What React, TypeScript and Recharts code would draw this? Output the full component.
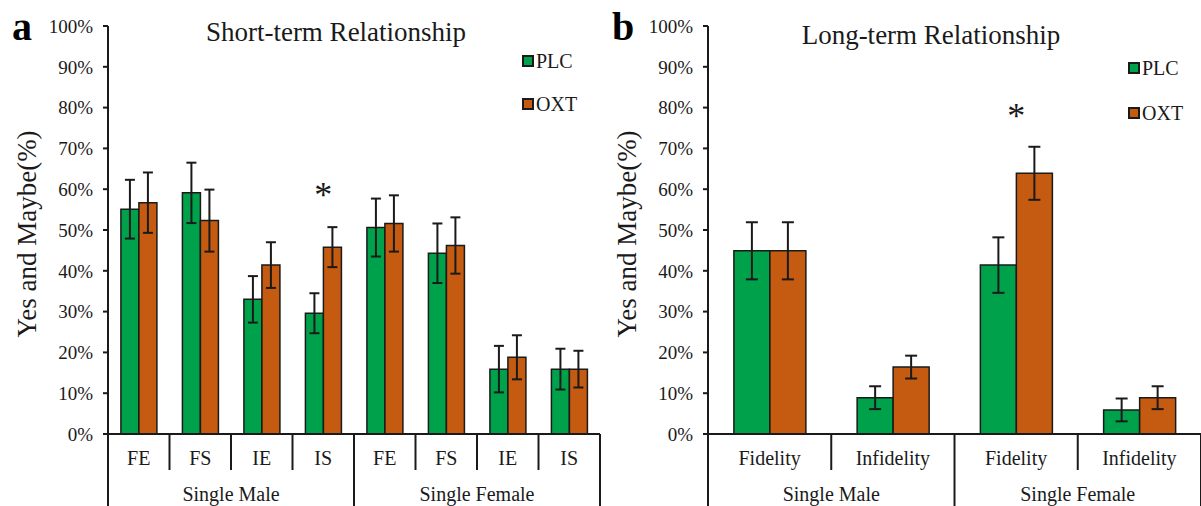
import { BarChart, Bar, XAxis, YAxis, ErrorBar, ReferenceDot, Legend } from 'recharts';

const FONT = '"Liberation Serif", "Times New Roman", serif';
const GREEN = '#00A14B';
const ORANGE = '#C55A11';
const INK = '#1a1a1a';

const seriesOrder = ['PLC', 'OXT'];

// panel a: short-term
const shortCats = ['FE', 'FS', 'IE', 'IS', 'FE', 'FS', 'IE', 'IS'];
const shortGroups = [
  'Single Male', 'Single Male', 'Single Male', 'Single Male',
  'Single Female', 'Single Female', 'Single Female', 'Single Female',
];
const shortPlc = [55.1, 59.1, 33.0, 29.6, 50.6, 44.3, 15.9, 15.9];
const shortPlcErr = [7.2, 7.4, 5.7, 4.9, 7.1, 7.3, 5.7, 5.0];
const shortOxt = [56.7, 52.3, 41.4, 45.8, 51.6, 46.2, 18.8, 15.9];
const shortOxtErr = [7.4, 7.6, 5.6, 4.9, 6.9, 6.9, 5.4, 4.5];
const shortStars = [null, null, null, 60, null, null, null, null];

// panel b: long-term
const longCats = ['Fidelity', 'Infidelity', 'Fidelity', 'Infidelity'];
const longGroups = ['Single Male', 'Single Male', 'Single Female', 'Single Female'];
const longPlc = [44.9, 8.9, 41.4, 5.9];
const longPlcErr = [7.0, 2.8, 6.8, 2.8];
const longOxt = [44.9, 16.4, 63.9, 8.9];
const longOxtErr = [7.0, 2.8, 6.5, 2.8];
const longStars = [null, null, 79.4, null];

const yTicks = [0, 10, 20, 30, 40, 50, 60, 70, 80, 90, 100];

interface PanelProps {
  letter: string;
  title: string;
  titleX: number;
  titleY: number;
  width: number;
  rightMargin: number;
  cats: string[];
  groups: string[];
  plc: number[];
  plcErr: number[];
  oxt: number[];
  oxtErr: number[];
  stars: (number | null)[];
  capWidth: number;
  legendLeft: number;
  legendTop: number;
  legendRow: number;
}

function Panel(p: PanelProps) {
  const data = p.cats.map((c, i) => ({
    id: `${p.groups[i]}|${c}|${i}`,
    cat: c,
    group: p.groups[i],
    plc: p.plc[i],
    plcErr: p.plcErr[i],
    oxt: p.oxt[i],
    oxtErr: p.oxtErr[i],
    star: p.stars[i],
  }));
  const height = 506;
  const margin = { top: 26, right: p.rightMargin, bottom: 0, left: 48 };
  const yWidth = 60;
  const xHeight = 72;
  const band = (p.width - margin.left - margin.right - yWidth) / data.length;

  const CatTick = (props: any) => {
    const { x, y, index } = props;
    const d = data[index];
    if (!d) return null;
    const start = index === 0 || data[index - 1].group !== d.group;
    const last = index === data.length - 1;
    const n = data.filter((e) => e.group === d.group).length;
    return (
      <g>
        <line x1={x - band / 2} x2={x - band / 2} y1={y} y2={y + (start ? xHeight : 36)} stroke={INK} strokeWidth={2} />
        {last && <line x1={x + band / 2} x2={x + band / 2} y1={y} y2={y + xHeight} stroke={INK} strokeWidth={2} />}
        <text x={x} y={y + 31} textAnchor="middle" fontSize={20} fontFamily={FONT} fill={INK}>
          {d.cat}
        </text>
        {start && (
          <text x={x - band / 2 + (n * band) / 2} y={y + 67} textAnchor="middle" fontSize={20} fontFamily={FONT} fill={INK}>
            {d.group}
          </text>
        )}
      </g>
    );
  };

  const renderLegend = (lp: any) => {
    const items = [...(lp.payload || [])].sort(
      (a: any, b: any) => seriesOrder.indexOf(a.value) - seriesOrder.indexOf(b.value)
    );
    return (
      <div style={{ fontFamily: FONT, fontSize: 20, color: INK }}>
        {items.map((e: any) => (
          <div key={e.value} style={{ display: 'flex', alignItems: 'center', height: p.legendRow, lineHeight: 1 }}>
            <span
              style={{
                display: 'inline-block',
                width: 8,
                height: 8,
                background: e.color,
                border: `2px solid ${INK}`,
                marginRight: 2,
              }}
            />
            {e.value}
          </div>
        ))}
      </div>
    );
  };

  return (
    <div style={{ position: 'relative', width: p.width, height }}>
      <BarChart
        width={p.width}
        height={height}
        data={data}
        margin={margin}
        barCategoryGap="21%"
        barGap={0}
      >
        <XAxis
          dataKey="id"
          interval={0}
          height={xHeight}
          tickLine={false}
          tickSize={0}
          tickMargin={0}
          axisLine={{ stroke: INK, strokeWidth: 2 }}
          tick={<CatTick />}
        />
        <YAxis
          width={yWidth}
          domain={[0, 100]}
          ticks={yTicks}
          interval={0}
          tickSize={5}
          tickMargin={10}
          tickFormatter={(v) => `${v}%`}
          axisLine={{ stroke: INK, strokeWidth: 2 }}
          tickLine={{ stroke: INK, strokeWidth: 2 }}
          tick={{ fontSize: 19, fontFamily: FONT, fill: INK }}
        />
        <Legend
          layout="vertical"
          align="center"
          verticalAlign="middle"
          wrapperStyle={{ left: p.legendLeft, top: p.legendTop, width: 80 }}
          content={renderLegend}
        />
        <Bar dataKey="plc" name="PLC" fill={GREEN} stroke={INK} strokeWidth={1.5} isAnimationActive={false}>
          <ErrorBar dataKey="plcErr" width={p.capWidth} stroke={INK} strokeWidth={2} direction="y" />
        </Bar>
        <Bar dataKey="oxt" name="OXT" fill={ORANGE} stroke={INK} strokeWidth={1.5} isAnimationActive={false}>
          <ErrorBar dataKey="oxtErr" width={p.capWidth} stroke={INK} strokeWidth={2} direction="y" />
        </Bar>
        {data
          .filter((d) => d.star != null)
          .map((d) => (
            <ReferenceDot
              key={d.id}
              x={d.id}
              y={d.star as number}
              r={0}
              shape={(sp: any) => (
                <text x={sp.cx} y={sp.cy + 18} textAnchor="middle" fontSize={36} fontFamily={FONT} fill={INK}>
                  *
                </text>
              )}
            />
          ))}
      </BarChart>
      <svg
        width={p.width}
        height={height}
        style={{ position: 'absolute', left: 0, top: 0, pointerEvents: 'none' }}
      >
        <text x={12} y={40} fontSize={40} fontWeight="bold" fontFamily={FONT} fill="#000">
          {p.letter}
        </text>
        <text x={p.titleX} y={p.titleY} textAnchor="middle" fontSize={27} fontFamily={FONT} fill={INK}>
          {p.title}
        </text>
        <text
          transform="translate(36,234) rotate(-90)"
          textAnchor="middle"
          fontSize={27}
          fontFamily={FONT}
          fill={INK}
        >
          Yes and Maybe(%)
        </text>
      </svg>
    </div>
  );
}

export default function App() {
  return (
    <div style={{ position: 'absolute', left: 0, top: 0, width: 1201, height: 506, background: '#fff', overflow: 'hidden' }}>
      <div style={{ position: 'absolute', left: 0, top: 0 }}>
        <Panel
          letter="a"
          title="Short-term Relationship"
          titleX={336}
          titleY={41}
          width={603}
          rightMargin={3}
          cats={shortCats}
          groups={shortGroups}
          plc={shortPlc}
          plcErr={shortPlcErr}
          oxt={shortOxt}
          oxtErr={shortOxtErr}
          stars={shortStars}
          capWidth={5}
          legendLeft={522}
          legendTop={39}
          legendRow={43}
        />
      </div>
      <div style={{ position: 'absolute', left: 600, top: 0 }}>
        <Panel
          letter="b"
          title="Long-term Relationship"
          titleX={331}
          titleY={44}
          width={601}
          rightMargin={0}
          cats={longCats}
          groups={longGroups}
          plc={longPlc}
          plcErr={longPlcErr}
          oxt={longOxt}
          oxtErr={longOxtErr}
          stars={longStars}
          capWidth={6}
          legendLeft={528}
          legendTop={45}
          legendRow={45}
        />
      </div>
    </div>
  );
}
